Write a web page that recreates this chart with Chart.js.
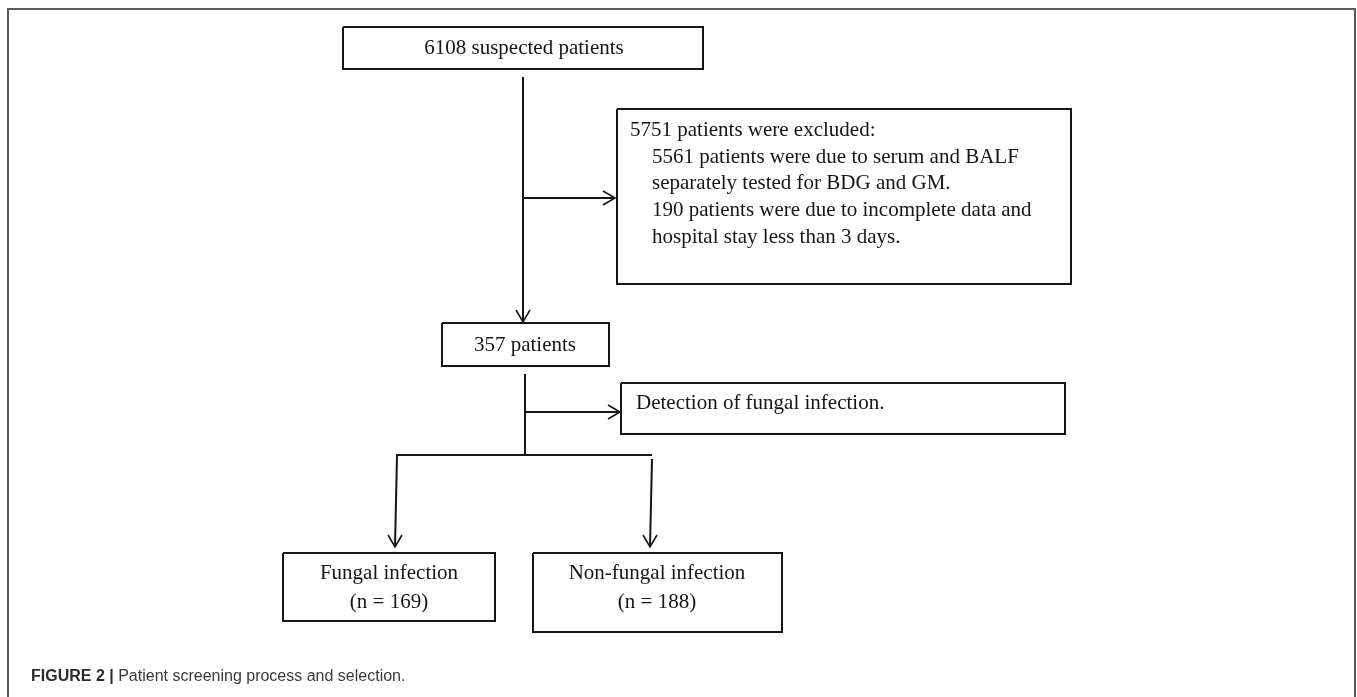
<!DOCTYPE html>
<html>
<head>
<meta charset="utf-8">
<script src="https://cdn.jsdelivr.net/npm/chart.js@4/dist/chart.umd.min.js"></script>
<style>
  html, body { margin: 0; padding: 0; background: #fff; overflow: hidden; }
  #wrap { position: relative; width: 1357px; height: 697px; }
  #frame { position: absolute; left: 7px; top: 8px; width: 1349px; height: 700px;
           border: 2px solid #5a5a5a; border-bottom: none; box-sizing: border-box; pointer-events: none; }
  #caption { position: absolute; left: 31px; top: 668px; font-family: "Liberation Sans", Arial, sans-serif;
             font-size: 16px; line-height: 16px; color: #3a3a3a; white-space: nowrap; }
  #caption b { color: #2b2b2b; }
  canvas { position: absolute; left: 0; top: 0; }
</style>
</head>
<body>
<div id="wrap">
  <canvas id="c" width="1357" height="697"></canvas>
  <div id="frame"></div>
  <div id="caption"><b>FIGURE 2 |</b> Patient screening process and selection.</div>
</div>
<script>
// ---- data ----
const stageCounts   = [6108, 357];                 // suspected, retained
const stageLabels   = ['suspected patients', 'patients'];
const exclusionCounts = [5751, 5561, 190];         // total excluded, reason 1, reason 2
const exclusionTexts  = [
  'patients were excluded:',
  ['patients were due to serum and BALF', 'separately tested for BDG and GM.'],
  ['patients were due to incomplete data and', 'hospital stay less than 3 days.']
];
const detectionText = 'Detection of fungal infection.';
const groupLabels = ['Fungal infection', 'Non-fungal infection'];
const groupCounts = [169, 188];

// ---- layout (figure coordinates, pixels of the 1357x697 figure) ----
const boxes = [
  { x0: 343, y0: 27,  x1: 703,  y1: 69 },   // suspected
  { x0: 617, y0: 109, x1: 1071, y1: 284 },  // excluded
  { x0: 442, y0: 323, x1: 609,  y1: 366 },  // 357 patients
  { x0: 621, y0: 383, x1: 1065, y1: 434 },  // detection
  { x0: 283, y0: 553, x1: 495,  y1: 621 },  // fungal
  { x0: 533, y0: 553, x1: 782,  y1: 632 }   // non-fungal
];
// connectors: [x0,y0,x1,y1,arrowDirection]
const connectors = [
  [523, 77, 523, 322, 'down'],
  [523, 198, 615, 198, 'right'],
  [525, 374, 525, 455, null],
  [525, 412, 620, 412, 'right'],
  [396, 455, 652, 455, null],
  [397, 455, 395, 547, 'down'],
  [652, 459, 650, 547, 'down']
];

function rectPts(b) {
  return [{x:b.x0,y:b.y0},{x:b.x1,y:b.y0},{x:b.x1,y:b.y1},{x:b.x0,y:b.y1},{x:b.x0,y:b.y0}];
}
function arrowHead(x, y, dir) {
  const L = 12, W = 7;
  if (dir === 'down')  return [{x:x-W,y:y-L},{x:x,y:y},{x:x+W,y:y-L}];
  if (dir === 'right') return [{x:x-L,y:y-W},{x:x,y:y},{x:x-L,y:y+W}];
  return null;
}

const lineStyle = { showLine: true, pointRadius: 0, borderColor: '#161616', borderWidth: 2,
                    tension: 0, fill: false, borderJoinStyle: 'miter', borderCapStyle: 'butt' };
const datasets = [];
boxes.forEach(b => datasets.push(Object.assign({ data: rectPts(b) }, lineStyle)));
connectors.forEach(c => {
  datasets.push(Object.assign({ data: [{x:c[0],y:c[1]},{x:c[2],y:c[3]}] }, lineStyle));
  const h = arrowHead(c[2], c[3], c[4]);
  if (h) datasets.push(Object.assign({ data: h }, lineStyle, { borderWidth: 1.6 }));
});

const SERIF = '"Liberation Serif", "Times New Roman", serif';
const texts = [
  { t: stageCounts[0] + ' ' + stageLabels[0], x: 524, y: 48, align: 'center' },
  { t: exclusionCounts[0] + ' ' + exclusionTexts[0], x: 630, y: 130, align: 'left' },
  { t: exclusionCounts[1] + ' ' + exclusionTexts[1][0], x: 652, y: 157, align: 'left' },
  { t: exclusionTexts[1][1], x: 652, y: 183, align: 'left' },
  { t: exclusionCounts[2] + ' ' + exclusionTexts[2][0], x: 652, y: 210, align: 'left' },
  { t: exclusionTexts[2][1], x: 652, y: 237, align: 'left' },
  { t: stageCounts[1] + ' ' + stageLabels[1], x: 525, y: 345, align: 'center' },
  { t: detectionText, x: 636, y: 403, align: 'left' },
  { t: groupLabels[0], x: 389, y: 573, align: 'center' },
  { t: '(n = ' + groupCounts[0] + ')', x: 389, y: 602, align: 'center' },
  { t: groupLabels[1], x: 657, y: 573, align: 'center' },
  { t: '(n = ' + groupCounts[1] + ')', x: 657, y: 602, align: 'center' }
];

const textPlugin = {
  id: 'flowText',
  afterDatasetsDraw(chart) {
    const ctx = chart.ctx, xs = chart.scales.x, ys = chart.scales.y;
    ctx.save();
    ctx.fillStyle = '#151515';
    ctx.font = '21px ' + SERIF;
    ctx.textBaseline = 'middle';
    texts.forEach(o => {
      ctx.textAlign = o.align;
      ctx.fillText(o.t, xs.getPixelForValue(o.x), ys.getPixelForValue(o.y));
    });
    ctx.restore();
  }
};

new Chart(document.getElementById('c'), {
  type: 'scatter',
  data: { datasets },
  options: {
    responsive: false,
    animation: false,
    devicePixelRatio: 1,
    layout: { padding: 0 },
    plugins: { legend: { display: false }, tooltip: { enabled: false }, title: { display: false } },
    scales: {
      x: { type: 'linear', min: 0, max: 1357, display: false },
      y: { type: 'linear', min: 0, max: 697, reverse: true, display: false }
    }
  },
  plugins: [textPlugin]
});
</script>
</body>
</html>
